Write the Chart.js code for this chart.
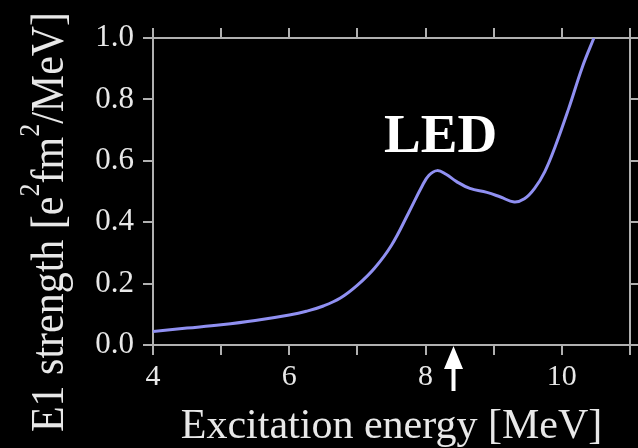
<!DOCTYPE html>
<html><head><meta charset="utf-8">
<script src="https://cdn.jsdelivr.net/npm/chart.js@4.4.0/dist/chart.umd.min.js"></script>
<style>html,body{margin:0;padding:0;background:#000;}#wrap{width:638px;height:448px;}</style>
</head><body><div id="wrap"><canvas id="c" width="638" height="448"></canvas></div>
<script>
// ---- data ----
const energies  = [4.0, 4.5, 5.0, 5.5, 6.0, 6.25, 6.5, 6.75, 7.0, 7.25, 7.5, 7.75, 7.95, 8.05, 8.17, 8.3, 8.45, 8.65, 8.9, 9.1, 9.3, 9.45, 9.6, 9.75, 9.9, 10.1, 10.3, 10.47];
const strengths = [0.044, 0.055, 0.066, 0.080, 0.098, 0.110, 0.127, 0.153, 0.195, 0.250, 0.325, 0.430, 0.518, 0.553, 0.568, 0.556, 0.533, 0.510, 0.497, 0.482, 0.466, 0.476, 0.510, 0.565, 0.645, 0.770, 0.905, 1.0];
const xRange = [4, 11];
const yRange = [0, 1];
const xTitle = 'Excitation energy [MeV]';
const yTitleParts = [['E1 strength [e', false], ['2', true], ['fm', false], ['2', true], ['/MeV]', false]];
const ledLabel = 'LED';
const ledEnergy = 8.22, ledStrength = 0.63;
const arrowEnergy = 8.41;

const AXIS = '#b0b0b0';
const TXT = '#e8e8e8';
const SERIF = "'Liberation Serif', 'Times New Roman', serif";

const extras = {
  id: 'extras',
  afterDraw(chart) {
    const ctx = chart.ctx;
    const xs = chart.scales.x, ys = chart.scales.y;
    ctx.save();
    // LED label
    ctx.fillStyle = '#ffffff';
    ctx.font = "bold 55px " + SERIF;
    ctx.textAlign = 'center';
    ctx.textBaseline = 'alphabetic';
    ctx.fillText(ledLabel, xs.getPixelForValue(ledEnergy), ys.getPixelForValue(ledStrength));
    // arrow
    const ax = xs.getPixelForValue(arrowEnergy);
    const ay = ys.getPixelForValue(0);
    ctx.beginPath();
    ctx.moveTo(ax, ay + 1);
    ctx.lineTo(ax + 9.5, ay + 24);
    ctx.lineTo(ax + 2, ay + 24);
    ctx.lineTo(ax + 2, ay + 46);
    ctx.lineTo(ax - 2, ay + 46);
    ctx.lineTo(ax - 2, ay + 24);
    ctx.lineTo(ax - 9.5, ay + 24);
    ctx.closePath();
    ctx.fill();
    // y title
    ctx.fillStyle = TXT;
    ctx.translate(63, 222);
    ctx.rotate(-Math.PI / 2);
    ctx.scale(1, 1.1);
    ctx.textAlign = 'left';
    const big = "42px " + SERIF, small = "26px " + SERIF;
    let total = 0;
    for (const [t, sup] of yTitleParts) { ctx.font = sup ? small : big; total += ctx.measureText(t).width; }
    let x = -total / 2;
    for (const [t, sup] of yTitleParts) {
      ctx.font = sup ? small : big;
      ctx.fillText(t, x, sup ? -22 : 0);
      x += ctx.measureText(t).width;
    }
    ctx.restore();
  }
};

const gridCommon = (len) => ({ display: true, drawOnChartArea: false, drawTicks: true, tickLength: len, color: AXIS, lineWidth: 2 });
const borderCommon = { display: true, color: AXIS, width: 2 };

new Chart(document.getElementById('c'), {
  type: 'line',
  data: {
    datasets: [{
      data: energies.map((e, i) => ({ x: e, y: strengths[i] })),
      borderColor: '#9090f2',
      borderWidth: 3,
      pointRadius: 0,
      fill: false,
      tension: 0.4
    }]
  },
  options: {
    responsive: false,
    devicePixelRatio: 1,
    animation: false,
    layout: { padding: 0 },
    plugins: { legend: { display: false }, tooltip: { enabled: false } },
    scales: {
      x: {
        type: 'linear', position: 'bottom', min: xRange[0], max: xRange[1],
        grid: gridCommon(10), border: borderCommon,
        ticks: { stepSize: 1, color: TXT, font: { family: SERIF, size: 30 }, padding: 4, maxRotation: 0,
                 callback: v => (v % 2 === 0 ? String(v) : '') },
        title: { display: true, text: xTitle, color: TXT, font: { family: SERIF, size: 42, lineHeight: 1 }, padding: 0 },
        afterFit: s => { s.height = 103; }
      },
      x2: {
        type: 'linear', position: 'top', min: xRange[0], max: xRange[1],
        grid: gridCommon(10), border: borderCommon,
        ticks: { stepSize: 1, display: false },
        afterFit: s => { s.height = 38; }
      },
      y: {
        type: 'linear', position: 'left', min: yRange[0], max: yRange[1],
        grid: gridCommon(10), border: borderCommon,
        ticks: { stepSize: 0.2, color: TXT, font: { family: SERIF, size: 31 }, padding: 9,
                 callback: v => Number(v).toFixed(1) },
        afterFit: s => { s.width = 153; }
      },
      y2: {
        type: 'linear', position: 'right', min: yRange[0], max: yRange[1],
        grid: gridCommon(8), border: borderCommon,
        ticks: { stepSize: 0.2, display: false },
        afterFit: s => { s.width = 8; }
      }
    }
  },
  plugins: [extras]
});
</script>
</body></html>
